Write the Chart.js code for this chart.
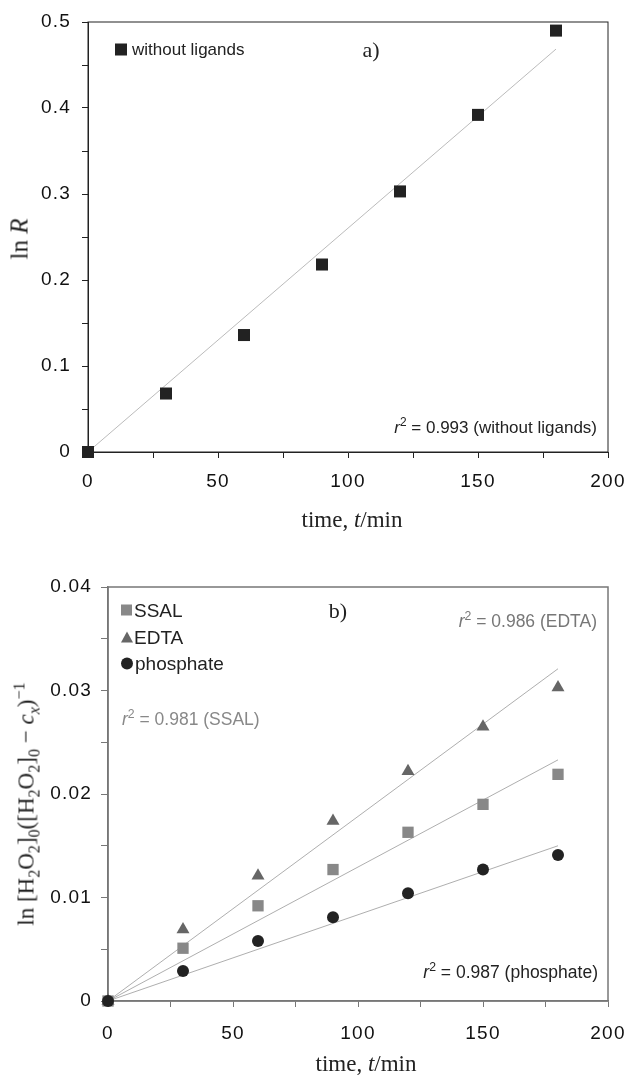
<!DOCTYPE html>
<html><head><meta charset="utf-8">
<script src="https://cdn.jsdelivr.net/npm/chart.js@4.4.1/dist/chart.umd.min.js"></script>
<style>
html,body{margin:0;padding:0;background:#fff;}
#wrap{position:relative;width:628px;height:1077px;overflow:hidden;}
canvas{position:absolute;left:0;}
.t{position:absolute;white-space:nowrap;line-height:1;}
.sans{font-family:"Liberation Sans",Arial,sans-serif;}
.serif{font-family:"Liberation Serif","Times New Roman",serif;}
sup,sub{font-size:70%;line-height:0;}
.rot{transform:translate(-50%,-50%) rotate(-90deg);}
.cc{transform:translate(-50%,-50%);}
.rc{transform:translate(-100%,-50%);}
.lc{transform:translate(0,-50%);}
.mk{display:inline-block;vertical-align:middle;margin-right:3px;position:relative;top:-1px;}
</style>
</head><body>
<div id="wrap">
<div style="position:absolute;left:0;top:0;width:628px;height:540px;"><canvas id="c1" width="628" height="540"></canvas></div>
<div style="position:absolute;left:0;top:540px;width:628px;height:537px;"><canvas id="c2" width="628" height="537"></canvas></div>

<div class="t serif rot" style="left:19px;top:239px;font-size:25px;color:#222;">ln <i>R</i></div>
<div class="t serif cc" style="left:352px;top:519px;font-size:23px;color:#222;">time, <i>t</i>/min</div>
<div class="t serif cc" style="left:371px;top:50px;font-size:22px;color:#222;">a)</div>
<div class="t sans rc" style="left:597px;top:427px;font-size:17px;color:#222;"><i>r</i><sup>2</sup> = 0.993 (without ligands)</div>
<div class="t sans lc" style="left:115px;top:49px;font-size:17px;color:#222;"><span class="mk" style="width:12px;height:12px;background:#222;margin-right:5px;"></span>without ligands</div>

<div class="t serif rot" style="left:26px;top:804px;font-size:23px;color:#222;">ln [H<sub>2</sub>O<sub>2</sub>]<sub>0</sub>([H<sub>2</sub>O<sub>2</sub>]<sub>0</sub> − <i>c<sub>x</sub></i>)<sup>−1</sup></div>
<div class="t serif cc" style="left:366px;top:1063px;font-size:23px;color:#222;">time, <i>t</i>/min</div>
<div class="t serif cc" style="left:338px;top:611px;font-size:22px;color:#222;">b)</div>
<div class="t sans rc" style="left:597px;top:622px;font-size:17.5px;color:#777;"><i>r</i><sup>2</sup> = 0.986 (EDTA)</div>
<div class="t sans lc" style="left:122px;top:720px;font-size:17.5px;color:#888;"><i>r</i><sup>2</sup> = 0.981 (SSAL)</div>
<div class="t sans rc" style="left:598px;top:973px;font-size:17.5px;color:#222;"><i>r</i><sup>2</sup> = 0.987 (phosphate)</div>
<div class="t sans lc" style="left:121px;top:610px;font-size:19px;color:#222;"><span class="mk" style="width:11px;height:11px;background:#888;margin-right:2px;"></span>SSAL</div>
<div class="t sans lc" style="left:121px;top:637px;font-size:19px;color:#222;"><span class="mk" style="width:0;height:0;border-left:6px solid transparent;border-right:6px solid transparent;border-bottom:11px solid #666;margin-right:1px;"></span>EDTA</div>
<div class="t sans lc" style="left:121px;top:663px;font-size:19px;color:#222;"><span class="mk" style="width:12px;height:12px;border-radius:50%;background:#222;margin-right:2px;"></span>phosphate</div>
</div>
<script>
// ---- data ----
const timesMin = [0, 30, 60, 90, 120, 150, 180];
const lnR_noLigands = [0, 0.068, 0.136, 0.218, 0.303, 0.392, 0.490];
const fitTimes = [0, 180];                 // trend lines drawn from t = 0 to t = 180
const fitNoLigands = [0, 0.4685];

const ssal = [0, 0.0051, 0.0092, 0.0127, 0.0163, 0.0190, 0.0219];
const edta = [0, 0.0069, 0.0121, 0.0174, 0.0222, 0.0265, 0.0303];
const phosphate = [0, 0.0029, 0.0058, 0.0081, 0.0104, 0.0127, 0.0141];
const fitSsal = [0, 0.0233];
const fitEdta = [0, 0.0321];
const fitPhosphate = [0, 0.0150];

const xTickLabels = [0, 50, 100, 150, 200];
const yTickLabelsA = [0, 0.1, 0.2, 0.3, 0.4, 0.5];
const yTickLabelsB = [0, 0.01, 0.02, 0.03, 0.04];

function pts(xs, ys){ return xs.map((x,i)=>({x:x, y:ys[i]})); }
function near(v, list){ return list.some(l => Math.abs(l - v) < 1e-9); }

const boxPlugin = {
  id:'box',
  beforeDraw(chart){ try { chart.ctx.letterSpacing = '1.2px'; } catch(e){} },
  afterDraw(chart){ try { chart.ctx.letterSpacing = '0px'; } catch(e){} },
  beforeDatasetsDraw(chart, args, opts){
    const a = chart.chartArea, ctx = chart.ctx;
    ctx.save();
    ctx.strokeStyle = opts.color; ctx.lineWidth = opts.width;
    ctx.strokeRect(a.left, a.top, a.right - a.left, a.bottom - a.top);
    ctx.restore();
  }
};

function makeChart(id, cfg){
  return new Chart(document.getElementById(id), {
    type:'scatter',
    data:{datasets: cfg.datasets},
    options:{
      responsive:false, animation:false, events:[],
      layout:{padding:{top:cfg.top, right:20, left:0, bottom:0}},
      plugins:{legend:{display:false}, tooltip:{enabled:false}, box:{color:cfg.axisColor, width:cfg.axisWidth}},
      scales:{
        x:{type:'linear', min:0, max:200,
          afterFit(s){ s.height = cfg.xh; s.paddingLeft = 0; s.paddingRight = 0; },
          ticks:{stepSize:25, autoSkip:false, maxRotation:0, padding:cfg.xpad, color:'#111',
            font:{family:'"Liberation Sans", Arial, sans-serif', size:19},
            callback:(v)=> near(v, xTickLabels) ? String(v) : ''},
          grid:{drawOnChartArea:false, drawTicks:true, tickLength:cfg.xtick, color:cfg.axisColor, lineWidth:1},
          border:{display:true, color:cfg.axisColor, width:cfg.axisWidth}
        },
        y:{type:'linear', min:0, max:cfg.ymax,
          afterFit(s){ s.width = cfg.yw; s.paddingTop = 0; s.paddingBottom = 0; },
          ticks:{stepSize:cfg.ystep, autoSkip:false, padding:cfg.ypad, color:'#111',
            font:{family:'"Liberation Sans", Arial, sans-serif', size:19},
            callback:(v)=> near(v, cfg.ylabels) ? String(+v.toFixed(3)) : ''},
          grid:{drawOnChartArea:false, drawTicks:true, tickLength:cfg.ytick, color:cfg.axisColor, lineWidth:1},
          border:{display:true, color:cfg.axisColor, width:cfg.axisWidth}
        }
      }
    },
    plugins:[boxPlugin]
  });
}

makeChart('c1', {
  top:22, xh:88, yw:88, ymax:0.5, ystep:0.05, ylabels:yTickLabelsA,
  xpad:12, ypad:11, xtick:6, ytick:6, axisColor:'#222', axisWidth:1,
  datasets:[
    {label:'without ligands', data:pts(timesMin, lnR_noLigands), pointStyle:'rect', pointRadius:8.5,
      backgroundColor:'#222', borderColor:'#222', borderWidth:0, clip:false},
    {label:'fit', data:pts(fitTimes, fitNoLigands), showLine:true, pointRadius:0,
      borderColor:'#aaa', borderWidth:0.8}
  ]
});

makeChart('c2', {
  top:47, xh:76, yw:108, ymax:0.04, ystep:0.005, ylabels:yTickLabelsB,
  xpad:15, ypad:9, xtick:6, ytick:7, axisColor:'#777', axisWidth:1.5,
  datasets:[
    {label:'phosphate', data:pts(timesMin, phosphate), pointStyle:'circle', pointRadius:6,
      backgroundColor:'#222', borderColor:'#222', borderWidth:0, clip:false},
    {label:'EDTA', data:pts(timesMin, edta), pointStyle:'triangle', pointRadius:7.5,
      backgroundColor:'#666', borderColor:'#666', borderWidth:0, clip:false},
    {label:'SSAL', data:pts(timesMin, ssal), pointStyle:'rect', pointRadius:8,
      backgroundColor:'#888', borderColor:'#888', borderWidth:0, clip:false},
    {label:'fit EDTA', data:pts(fitTimes, fitEdta), showLine:true, pointRadius:0, borderColor:'#999', borderWidth:0.8},
    {label:'fit SSAL', data:pts(fitTimes, fitSsal), showLine:true, pointRadius:0, borderColor:'#999', borderWidth:0.8},
    {label:'fit phosphate', data:pts(fitTimes, fitPhosphate), showLine:true, pointRadius:0, borderColor:'#999', borderWidth:0.8}
  ]
});
</script>
</body></html>
